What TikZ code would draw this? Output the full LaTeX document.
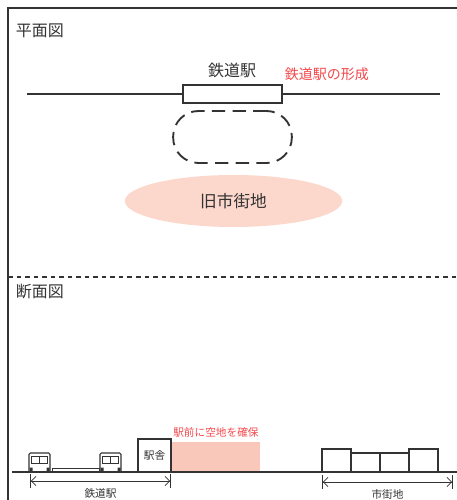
\documentclass[tikz,border=0pt]{standalone}
\usepackage{fontspec}
\newfontfamily\jpfont{Noto Sans CJK JP}
\usetikzlibrary{positioning,arrows.meta,shapes.geometric,calc}

\definecolor{ink}{HTML}{333333}
\definecolor{notered}{HTML}{F4474A}
\definecolor{oldtown}{HTML}{FCD7CB}
\definecolor{plazapink}{HTML}{FAC7BB}

\tikzset{
    big/.style={font=\jpfont\fontsize{12}{14}\selectfont},
    mid/.style={font=\jpfont\fontsize{10.5}{12}\selectfont},
    small/.style={font=\jpfont\fontsize{8}{9}\selectfont},
    note/.style={text=notered},
    bldg/.style={draw, line width=0.8pt, outer sep=0pt, anchor=south west, minimum width=21.75pt},
    dim/.style={line width=0.6pt,
        {Bar[width=10pt]Straight Barb[length=3.5pt,width=7pt]}-{Straight Barb[length=3.5pt,width=7pt]Bar[width=10pt]}},
}

\begin{document}
\begin{tikzpicture}[x=0.75pt, y=-0.75pt, color=ink, line width=1.4pt,
    every node/.style={inner sep=0pt, text=ink}]
    \useasboundingbox (0,0) rectangle (457,500);

    % frame and split
    \draw (8,500) -- (8,8) -- (457,8);
    \draw[line width=1.1pt, dash pattern=on 3.4pt off 3pt] (8,277) -- (457,277);

    % plan view
    \node[big, anchor=west](plan) at (15,31) {平面図};
    \coordinate(trackW) at (27,94);
    \coordinate(trackE) at (440,94);
    \node[draw, minimum width=74.25pt, minimum height=13.5pt](stn) at (232.5,94) {};
    \draw (trackW) -- (stn.west)
    (stn.east) -- (trackE);
    \node[big](stnname) at (232,70) {鉄道駅};
    \node[mid, note, anchor=south west, xshift=0.8pt, yshift=2pt](forming) at (stn.north east) {鉄道駅の形成};

    \node[draw, dash pattern=on 10pt off 5.5pt, rounded corners=19pt,
    minimum width=89pt, minimum height=39pt](site) at (232.5,137) {};
    \node[ellipse, fill=oldtown, font=\jpfont\fontsize{12.5}{14}\selectfont,
    minimum width=163pt, minimum height=39pt](oldtown) at (233.5,201) {旧市街地};

    % section view
    \node[big, anchor=west](section) at (15,292) {断面図};

    % trains and platform
    \foreach \tx in {29,100}{
        \draw[line width=0.8pt, rounded corners=1pt] (\tx,472) -- (\tx,453) -- (\tx+21,453) -- (\tx+21,472);
        \draw[line width=0.7pt] (\tx+2.5,456.5) rectangle (\tx+18.5,463.5)
        (\tx+10.5,456.5) -- (\tx+10.5,463.5);
        \fill (\tx+0.5,467.5) rectangle ++(3,3.5)
        (\tx+17.5,467.5) rectangle ++(3,3.5);
    }
    \draw[line width=0.7pt] (52,468.5) rectangle (99,472);

    % station house and plaza
    \node[bldg, minimum width=24.75pt, minimum height=24.75pt](house) at (138,472) {};
    \node[small] at (house.center) {駅舎};
    \node[fill=plazapink, anchor=south west, minimum width=66pt, minimum height=21.75pt](plaza) at (house.south east) {};
    \node[small, note, above=2.2pt of plaza](plazanote) {駅前に空地を確保};

    % town buildings
    \node[bldg, minimum height=17.25pt](b1) at (322,472) {};
    \node[bldg, minimum height=14.25pt](b2) at (b1.south east) {};
    \node[bldg, minimum height=14.25pt](b3) at (b2.south east) {};
    \node[bldg, minimum height=17.25pt](b4) at (b3.south east) {};

    \draw[line width=1.5pt] (12,472) -- (457,472);

    % dimensions
    \coordinate(stnL) at (30,481);
    \coordinate(stnR) at (house.east |- stnL);
    \draw[dim] (stnL) -- (stnR);
    \node[small, below=5pt of $(stnL)!0.5!(stnR)$](stnspan) {鉄道駅};
    \coordinate(townL) at (b1.west |- 0,482);
    \coordinate(townR) at (453,482);
    \draw[dim] (townL) -- (townR);
    \node[small, below=5pt of $(townL)!0.5!(townR)$](townspan) {市街地};
\end{tikzpicture}
\end{document}
